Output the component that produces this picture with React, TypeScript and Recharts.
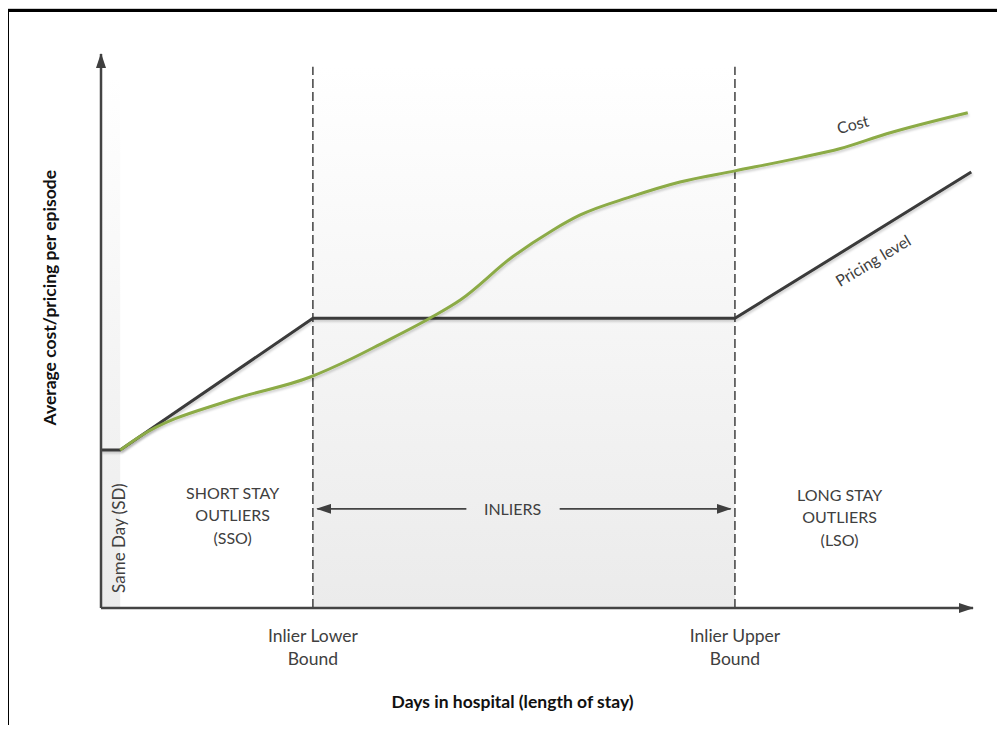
import React from 'react'
import {
  ComposedChart,
  Line,
  XAxis,
  YAxis,
  ReferenceArea,
  ReferenceLine,
  ReferenceDot
} from 'recharts'

// x: length of stay (0-100 units), y: cost / price (0-100 units)
const costX = [2.2, 4.5, 14.8, 24.0, 28.6, 32.0, 37.7, 41.2, 47.2, 51.8, 54.9, 60.7, 66.4, 72.7, 80.2, 84.7, 90.1, 99.4]
const costY = [28.5, 31.0, 37.5, 41.7, 44.9, 47.6, 52.3, 55.6, 63.4, 68.2, 70.9, 74.2, 76.9, 78.9, 81.3, 82.9, 85.6, 89.4]

const pricingX = [0, 2.2, 24.3, 72.7, 99.8]
const pricingY = [28.5, 28.5, 52.3, 52.3, 78.7]

const sameDayEnd = 2.2
const boundX = [24.3, 72.7]
const boundLabels = [['Inlier Lower', 'Bound'], ['Inlier Upper', 'Bound']]
const boundTop = 97.7

const inlierArrowY = 17.9
const inlierArrowLeft = [24.8, 41.9]
const inlierArrowRight = [52.6, 72.2]

const regionNotes = [
  { x: 15.1, y: 19.7, lines: ['SHORT STAY', 'OUTLIERS', '(SSO)'] },
  { x: 84.7, y: 19.4, lines: ['LONG STAY', 'OUTLIERS', '(LSO)'] },
  { x: 47.2, y: 16.8, lines: ['INLIERS'] }
]

const costData = costX.map((x, i) => ({ x, y: costY[i] }))
const pricingData = pricingX.map((x, i) => ({ x, y: pricingY[i] }))

const FONT = "Lato, 'Open Sans', sans-serif"
const TEXT = '#404040'
const AXIS = '#444444'

const arrowLine = (end: 'start' | 'end', width: number) => (p: any) => (
  <line
    x1={p.x1}
    y1={p.y1}
    x2={p.x2}
    y2={p.y2}
    stroke={AXIS}
    strokeWidth={width}
    markerStart={end === 'start' ? 'url(#arrowHead)' : undefined}
    markerEnd={end === 'end' ? 'url(#arrowHead)' : undefined}
  />
)

const BoundTick = (props: any) => {
  const { x, y, index } = props
  const lines = boundLabels[index] || []
  return (
    <g>
      {lines.map((t, i) => (
        <text key={i} x={x} y={y + 34 + i * 23} textAnchor="middle" fill={TEXT} fontFamily={FONT} fontSize={17.5}>
          {t}
        </text>
      ))}
    </g>
  )
}

const noteShape = (lines: string[]) => (p: any) => (
  <g>
    {lines.map((t, i) => (
      <text key={i} x={p.cx} y={p.cy + i * 22.5} textAnchor="middle" fill={TEXT} fontFamily={FONT} fontSize={16}>
        {t}
      </text>
    ))}
  </g>
)

const rotatedText = (text: string, angle: number, size: number, bold = false, color = TEXT) => (p: any) => (
  <text
    x={p.cx}
    y={p.cy}
    transform={`rotate(${angle} ${p.cx} ${p.cy})`}
    textAnchor="middle"
    dominantBaseline="central"
    fill={color}
    fontFamily={FONT}
    fontSize={size}
    fontWeight={bold ? 700 : 400}
  >
    {text}
  </text>
)

export default function App() {
  return (
    <div style={{ position: 'relative', width: 1005, height: 733, margin: -8, background: '#fff', overflow: 'hidden' }}>
      <div
        style={{
          position: 'absolute',
          left: 4,
          top: 7,
          right: -10,
          bottom: -10,
          borderTop: '2px solid #cfcfcf',
          borderLeft: '2px solid #cfcfcf'
        }}
      >
        <div style={{ position: 'absolute', inset: 0, borderTop: '3px solid #000', borderLeft: '3px solid #000' }} />
      </div>
      <div style={{ position: 'absolute', left: 0, top: 0 }}>
        <ComposedChart width={1005} height={733} margin={{ top: 54, right: 32, left: 0, bottom: 25 }}>
          <defs>
            <linearGradient id="shade" x1="0" y1="0" x2="0" y2="1">
              <stop offset="0%" stopColor="#ffffff" />
              <stop offset="100%" stopColor="#ebebeb" />
            </linearGradient>
            <marker
              id="arrowHead"
              viewBox="0 0 15 10"
              refX="14"
              refY="5"
              markerWidth="15"
              markerHeight="10"
              markerUnits="userSpaceOnUse"
              orient="auto-start-reverse"
            >
              <path d="M0,0 L15,5 L0,10 z" fill="#3f3f3f" />
            </marker>
            <filter id="lineShadow" x="-5%" y="-5%" width="110%" height="120%">
              <feDropShadow dx="1" dy="2" stdDeviation="1" floodColor="#000" floodOpacity="0.18" />
            </filter>
          </defs>
          <XAxis
            type="number"
            dataKey="x"
            domain={[0, 100]}
            ticks={boundX}
            interval={0}
            tick={<BoundTick />}
            tickSize={0}
            tickMargin={0}
            tickLine={false}
            axisLine={false}
            height={100}
          />
          <YAxis type="number" dataKey="y" domain={[0, 100]} tick={false} tickLine={false} axisLine={false} width={101} />

          <ReferenceArea x1={0} x2={sameDayEnd} y1={0} y2={boundTop - 2} fill="url(#shade)" fillOpacity={1} stroke="none" />
          <ReferenceArea x1={boundX[0]} x2={boundX[1]} y1={0} y2={boundTop} fill="url(#shade)" fillOpacity={1} stroke="none" />

          {boundX.map(bx => (
            <ReferenceLine
              key={bx}
              segment={[{ x: bx, y: 0 }, { x: bx, y: boundTop }]}
              stroke="#333"
              strokeWidth={1.4}
              strokeDasharray="9 4"
              ifOverflow="visible"
            />
          ))}

          <ReferenceLine
            segment={[{ x: inlierArrowLeft[0], y: inlierArrowY }, { x: inlierArrowLeft[1], y: inlierArrowY }]}
            shape={arrowLine('start', 1.6)}
            ifOverflow="visible"
          />
          <ReferenceLine
            segment={[{ x: inlierArrowRight[0], y: inlierArrowY }, { x: inlierArrowRight[1], y: inlierArrowY }]}
            shape={arrowLine('end', 1.6)}
            ifOverflow="visible"
          />

          <Line
            data={pricingData}
            dataKey="y"
            type="linear"
            stroke="#3a3a3a"
            strokeWidth={3}
            dot={false}
            activeDot={false}
            filter="url(#lineShadow)"
            isAnimationActive={false}
          />
          <Line
            data={costData}
            dataKey="y"
            type="monotone"
            stroke="#8cab46"
            strokeWidth={3}
            dot={false}
            activeDot={false}
            filter="url(#lineShadow)"
            isAnimationActive={false}
          />

          <ReferenceLine segment={[{ x: 0, y: 0 }, { x: 0, y: 100 }]} shape={arrowLine('end', 2.5)} ifOverflow="visible" />
          <ReferenceLine segment={[{ x: 0, y: 0 }, { x: 100, y: 0 }]} shape={arrowLine('end', 2.5)} ifOverflow="visible" />

          {regionNotes.map((n, i) => (
            <ReferenceDot key={i} x={n.x} y={n.y} r={0} ifOverflow="visible" shape={noteShape(n.lines)} />
          ))}

          <ReferenceDot x={2.0} y={12.6} r={0} ifOverflow="visible" shape={rotatedText('Same Day (SD)', -90, 17)} />
          <ReferenceDot x={86.2} y={87.4} r={0} ifOverflow="visible" shape={rotatedText('Cost', -15, 16)} />
          <ReferenceDot x={88.5} y={62.8} r={0} ifOverflow="visible" shape={rotatedText('Pricing level', -31, 16)} />
          <ReferenceDot
            x={-5.96}
            y={56}
            r={0}
            ifOverflow="visible"
            shape={rotatedText('Average cost/pricing per episode', -90, 17.5, true, '#111')}
          />
          <ReferenceDot
            x={47.2}
            y={-16.9}
            r={0}
            ifOverflow="visible"
            shape={rotatedText('Days in hospital (length of stay)', 0, 17.5, true, '#111')}
          />
        </ComposedChart>
      </div>
    </div>
  )
}
